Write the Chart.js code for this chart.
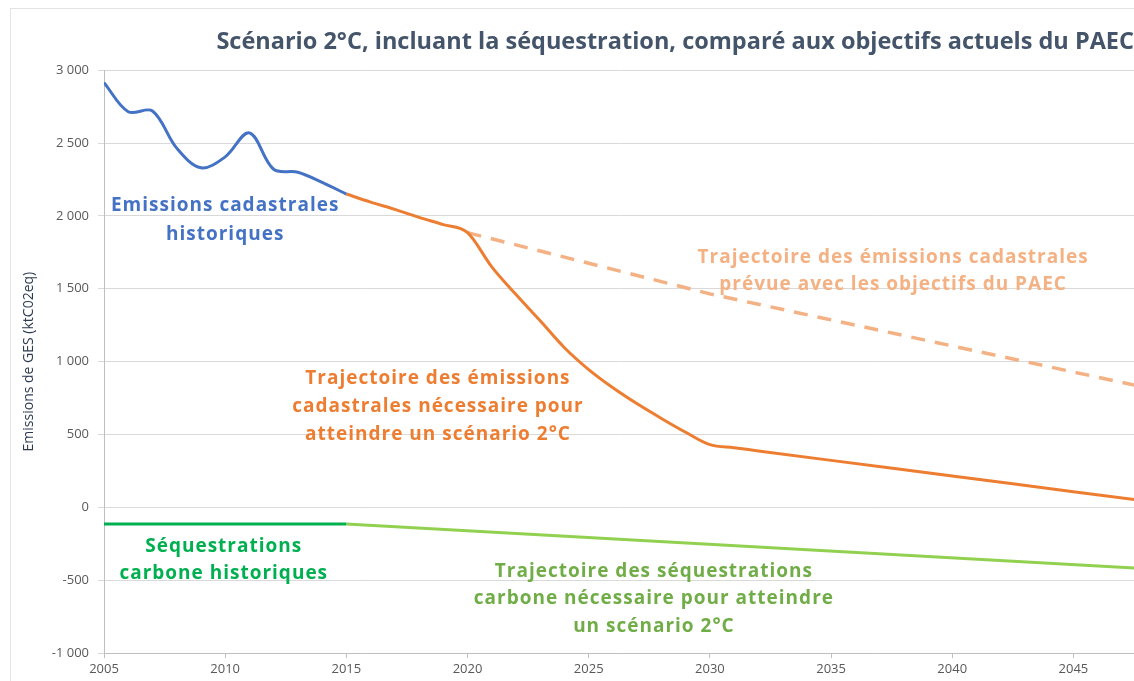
<!DOCTYPE html>
<html>
<head>
<meta charset="utf-8">
<script src="https://cdn.jsdelivr.net/npm/chart.js@4.4.1/dist/chart.umd.min.js"></script>
<style>
  html, body { margin: 0; padding: 0; background: #fff; overflow: hidden; }
  #wrap { position: relative; width: 1134px; height: 681px; }
</style>
</head>
<body>
<div id="wrap"><canvas id="ChartScenario2C"></canvas></div>
<script>
// --- data (ktCO2eq) ---
const histYears = [2005, 2006, 2007, 2008, 2009, 2010, 2011, 2012, 2013, 2014, 2015];
const histEmissions = [2915, 2715, 2720, 2465, 2330, 2405, 2570, 2320, 2300, 2230, 2150];

const trajYears = [2015, 2016, 2017, 2018, 2019, 2020, 2021, 2022, 2023, 2024, 2025, 2026, 2027, 2028, 2029, 2030, 2031, 2032, 2035, 2040, 2045, 2050];
const trajEmissions = [2150, 2095, 2045, 1990, 1940, 1885, 1650, 1460, 1280, 1095, 945, 820, 710, 610, 515, 430, 409, 387, 322, 215, 107, 0];

const paecYears = [2020, 2030, 2050];
const paecEmissions = [1885, 1465, 750];

const histSeqYears = [2005, 2015];
const histSequestration = [-115, -115];

const trajSeqYears = [2015, 2050];
const trajSequestration = [-115, -440];

const xTicks = [2005, 2010, 2015, 2020, 2025, 2030, 2035, 2040, 2045];
const yTicks = [-1000, -500, 0, 500, 1000, 1500, 2000, 2500, 3000];

const toPoints = (xs, ys) => xs.map((x, i) => ({ x: x, y: ys[i] }));

// text labels written on the plot (anchored in data coordinates)
const notes = [
    { lines: ['Emissions cadastrales', 'historiques'], x: 2010, y: 2068, color: '#4472c4', gap: 29 },
    { lines: ['Trajectoire des émissions cadastrales', 'prévue avec les objectifs du PAEC'], x: 2037.56, y: 1712, color: '#f4b183', gap: 27 },
    { lines: ['Trajectoire des émissions', 'cadastrales nécessaire pour', 'atteindre un scénario 2°C'], x: 2018.78, y: 884, color: '#ed7d31', gap: 28 },
    { lines: ['Séquestrations', 'carbone historiques'], x: 2009.94, y: -267, color: '#00b050', gap: 27 },
    { lines: ['Trajectoire des séquestrations', 'carbone nécessaire pour atteindre', 'un scénario 2°C'], x: 2027.69, y: -438, color: '#70ad47', gap: 27.5 }
];

function fmtThousands(v) {
    const s = String(Math.abs(v));
    const out = s.length > 3 ? s.slice(0, s.length - 3) + ' ' + s.slice(-3) : s;
    return (v < 0 ? '-' : '') + out;
}

const ctx = document.getElementById('ChartScenario2C').getContext('2d');
new Chart(ctx, {
    type: 'line',
    data: {
        datasets: [
            {
                label: 'Emissions cadastrales historiques',
                data: toPoints(histYears, histEmissions),
                borderColor: '#4472c4',
                borderWidth: 3,
                tension: 0.35
            },
            {
                label: 'Trajectoire nécessaire 2°C',
                data: toPoints(trajYears, trajEmissions),
                borderColor: '#ed7d31',
                borderWidth: 3,
                cubicInterpolationMode: 'monotone'
            },
            {
                label: 'Trajectoire PAEC',
                data: toPoints(paecYears, paecEmissions),
                borderColor: '#f4b183',
                borderWidth: 3.5,
                borderDash: [14, 10],
                tension: 0
            },
            {
                label: 'Séquestrations carbone historiques',
                data: toPoints(histSeqYears, histSequestration),
                borderColor: '#00b050',
                borderWidth: 3,
                tension: 0
            },
            {
                label: 'Trajectoire des séquestrations',
                data: toPoints(trajSeqYears, trajSequestration),
                borderColor: '#92d050',
                borderWidth: 3,
                tension: 0
            }
        ]
    },
    options: {
        responsive: true,
        maintainAspectRatio: false,
        animation: false,
        elements: { point: { radius: 0 } },
        layout: { padding: { left: 0, right: 0, top: 0, bottom: 0 } },
        plugins: {
            legend: { display: false },
            tooltip: { enabled: false },
            title: {
                display: true,
                text: 'Scénario 2°C, incluant la séquestration, comparé aux objectifs actuels du PAEC',
                align: 'end',
                color: '#44546a',
                font: { family: 'Open Sans', size: 23.5, weight: 'bold' },
                padding: { top: 28, bottom: 14 }
            }
        },
        scales: {
            x: {
                type: 'linear',
                min: 2005,
                max: 2047.5,
                afterBuildTicks(scale) {
                    scale.ticks = xTicks.map(v => ({ value: v }));
                },
                afterFit(scale) { scale.height = 28; },
                ticks: {
                    color: '#595959',
                    font: { family: 'Open Sans', size: 13 },
                    padding: 3,
                    maxRotation: 0,
                    callback: v => String(v)
                },
                grid: {
                    drawOnChartArea: false,
                    tickLength: 5,
                    color: '#bfbfbf'
                },
                border: { color: '#bfbfbf' }
            },
            y: {
                min: -1000,
                max: 3000,
                afterBuildTicks(scale) {
                    scale.ticks = yTicks.map(v => ({ value: v }));
                },
                afterFit(scale) { scale.width = 104; },
                ticks: {
                    color: '#595959',
                    font: { family: 'Open Sans', size: 13 },
                    padding: 9,
                    callback: v => fmtThousands(v)
                },
                grid: {
                    color: '#d9d9d9',
                    tickLength: 6
                },
                border: { color: '#bfbfbf' },
                title: {
                    display: true,
                    text: 'Emissions de GES (ktC02eq)',
                    color: '#2b3a4f',
                    font: { family: 'Open Sans', size: 14 },
                    padding: { top: 21, bottom: 0 }
                }
            }
        }
    },
    plugins: [
        {
            id: 'frameAndNotes',
            beforeDraw(chart) {
                const c = chart.ctx;
                c.save();
                c.fillStyle = '#ffffff';
                c.fillRect(0, 0, chart.width, chart.height);
                c.strokeStyle = '#e3e3e3';
                c.lineWidth = 1;
                c.strokeRect(10.5, 8.5, chart.width + 20, chart.height + 20);
                c.restore();
            },
            afterDatasetsDraw(chart) {
                const c = chart.ctx;
                const xs = chart.scales.x;
                const ys = chart.scales.y;
                c.save();
                c.font = 'bold 19px "Open Sans"';
                c.letterSpacing = '1px';
                c.textAlign = 'center';
                c.textBaseline = 'middle';
                notes.forEach(n => {
                    const px = xs.getPixelForValue(n.x);
                    const py = ys.getPixelForValue(n.y);
                    c.fillStyle = n.color;
                    n.lines.forEach((line, i) => {
                        c.fillText(line, px, py + i * n.gap);
                    });
                });
                c.restore();
            }
        }
    ]
});
</script>
</body>
</html>
